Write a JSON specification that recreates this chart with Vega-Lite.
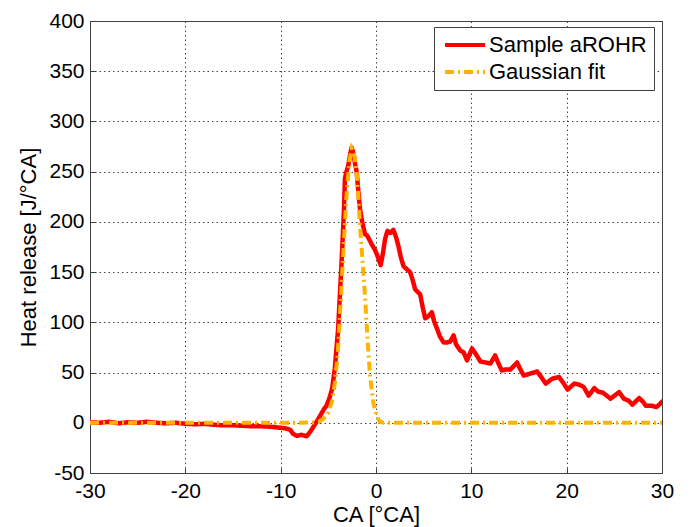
{
  "$schema": "https://vega.github.io/schema/vega-lite/v6.json",
  "width": 572,
  "height": 452,
  "autosize": {"type": "none"},
  "padding": {"left": 90, "top": 21, "right": 28, "bottom": 54},
  "background": "white",
  "config": {
    "font": "Liberation Sans",
    "view": {"stroke": "#404040", "strokeWidth": 1},
    "axis": {
      "domain": false,
      "grid": true,
      "gridColor": "#444444",
      "gridDash": [1.5, 3],
      "gridWidth": 1,
      "gridOpacity": 1,
      "tickSize": -5,
      "tickColor": "#404040",
      "labelFlush": false,
      "labelOverlap": false,
      "labelFont": "Liberation Sans",
      "labelFontSize": 21,
      "labelColor": "black",
      "labelExpr": "toString(datum.value)",
      "titleFont": "Liberation Sans",
      "titleFontSize": 22,
      "titleFontWeight": "normal",
      "titleColor": "black"
    },
    "legend": {
      "orient": "none",
      "legendX": 344,
      "legendY": 6,
      "symbolType": "M-1.4,0H6.6",
      "symbolSize": 100,
      "symbolStrokeWidth": 4,
      "labelFont": "Liberation Sans",
      "labelFontSize": 22,
      "labelColor": "black",
      "labelOffset": 26,
      "fillColor": "white",
      "strokeColor": "#404040",
      "padding": 7,
      "rowPadding": 5
    }
  },
  "datasets": {
    "arohr": [
      {"ca": -30, "hr": 0.5}, {"ca": -29, "hr": 0}, {"ca": -28, "hr": 1}, {"ca": -27, "hr": -0.5}, {"ca": -26, "hr": 0.5},
      {"ca": -25, "hr": 0}, {"ca": -24, "hr": 1}, {"ca": -23, "hr": 0}, {"ca": -22, "hr": -0.5}, {"ca": -21, "hr": 0},
      {"ca": -20, "hr": -1}, {"ca": -19, "hr": -1.5}, {"ca": -18, "hr": -1}, {"ca": -17, "hr": -2}, {"ca": -16, "hr": -2.5},
      {"ca": -15, "hr": -2.5}, {"ca": -14, "hr": -3}, {"ca": -13, "hr": -3.5}, {"ca": -12, "hr": -3.5}, {"ca": -11, "hr": -4},
      {"ca": -10, "hr": -5}, {"ca": -9.5, "hr": -5.5}, {"ca": -9, "hr": -7}, {"ca": -8.7, "hr": -11}, {"ca": -8.3, "hr": -13},
      {"ca": -7.8, "hr": -12}, {"ca": -7.3, "hr": -13.5}, {"ca": -6.9, "hr": -9}, {"ca": -6.5, "hr": -3}, {"ca": -6.1, "hr": 3},
      {"ca": -5.8, "hr": 8}, {"ca": -5.5, "hr": 13}, {"ca": -5.2, "hr": 17}, {"ca": -4.9, "hr": 24}, {"ca": -4.6, "hr": 34},
      {"ca": -4.32, "hr": 54}, {"ca": -3.97, "hr": 94}, {"ca": -3.61, "hr": 160}, {"ca": -3.37, "hr": 210}, {"ca": -3.26, "hr": 243},
      {"ca": -3.1, "hr": 250}, {"ca": -2.91, "hr": 256}, {"ca": -2.7, "hr": 268}, {"ca": -2.56, "hr": 274}, {"ca": -2.35, "hr": 268},
      {"ca": -2.2, "hr": 258}, {"ca": -2.03, "hr": 250}, {"ca": -1.85, "hr": 230}, {"ca": -1.68, "hr": 213}, {"ca": -1.45, "hr": 200},
      {"ca": -1.16, "hr": 188}, {"ca": -0.9, "hr": 186}, {"ca": -0.63, "hr": 181}, {"ca": -0.35, "hr": 176}, {"ca": -0.1, "hr": 172},
      {"ca": 0.2, "hr": 165}, {"ca": 0.49, "hr": 157}, {"ca": 0.75, "hr": 170}, {"ca": 0.95, "hr": 183}, {"ca": 1.2, "hr": 191},
      {"ca": 1.5, "hr": 189}, {"ca": 1.82, "hr": 192}, {"ca": 2.1, "hr": 185}, {"ca": 2.35, "hr": 176}, {"ca": 2.6, "hr": 165},
      {"ca": 2.88, "hr": 156}, {"ca": 3.2, "hr": 153}, {"ca": 3.58, "hr": 150}, {"ca": 3.85, "hr": 142}, {"ca": 4.1, "hr": 133},
      {"ca": 4.4, "hr": 130}, {"ca": 4.63, "hr": 128}, {"ca": 4.9, "hr": 115}, {"ca": 5.16, "hr": 104}, {"ca": 5.5, "hr": 106},
      {"ca": 5.86, "hr": 110}, {"ca": 6.1, "hr": 101}, {"ca": 6.39, "hr": 94}, {"ca": 6.7, "hr": 86}, {"ca": 7.09, "hr": 80},
      {"ca": 7.5, "hr": 80}, {"ca": 7.8, "hr": 81}, {"ca": 8.14, "hr": 87}, {"ca": 8.4, "hr": 78}, {"ca": 8.84, "hr": 72},
      {"ca": 9.2, "hr": 70}, {"ca": 9.55, "hr": 62}, {"ca": 9.8, "hr": 68}, {"ca": 10.07, "hr": 74}, {"ca": 10.5, "hr": 68},
      {"ca": 10.95, "hr": 61}, {"ca": 11.5, "hr": 60}, {"ca": 12.0, "hr": 59}, {"ca": 12.5, "hr": 67}, {"ca": 12.8, "hr": 60},
      {"ca": 13.2, "hr": 52}, {"ca": 13.6, "hr": 53}, {"ca": 14.1, "hr": 53}, {"ca": 14.8, "hr": 60}, {"ca": 15.1, "hr": 54},
      {"ca": 15.5, "hr": 47}, {"ca": 16.2, "hr": 49}, {"ca": 16.9, "hr": 51}, {"ca": 17.3, "hr": 46}, {"ca": 17.8, "hr": 39},
      {"ca": 18.5, "hr": 44}, {"ca": 19.2, "hr": 45.5}, {"ca": 19.7, "hr": 39}, {"ca": 20.1, "hr": 33}, {"ca": 20.8, "hr": 39},
      {"ca": 21.3, "hr": 38}, {"ca": 21.8, "hr": 35.5}, {"ca": 22.3, "hr": 27}, {"ca": 22.9, "hr": 34.5}, {"ca": 23.3, "hr": 31},
      {"ca": 23.8, "hr": 30}, {"ca": 24.2, "hr": 27}, {"ca": 24.6, "hr": 24}, {"ca": 25.5, "hr": 30.5}, {"ca": 26.0, "hr": 24},
      {"ca": 26.5, "hr": 22}, {"ca": 26.9, "hr": 18}, {"ca": 27.6, "hr": 24.6}, {"ca": 28.0, "hr": 21}, {"ca": 28.3, "hr": 17},
      {"ca": 28.9, "hr": 17}, {"ca": 29.4, "hr": 15.6}, {"ca": 29.7, "hr": 18}, {"ca": 30, "hr": 21}
    ],
    "gauss": [
      {"ca": -30, "hr": 0}, {"ca": -8, "hr": 0}, {"ca": -7, "hr": 0.2}, {"ca": -6.5, "hr": 0.5}, {"ca": -6, "hr": 1},
      {"ca": -5.5, "hr": 4}, {"ca": -5, "hr": 10}, {"ca": -4.6, "hr": 22}, {"ca": -4.3, "hr": 40}, {"ca": -4, "hr": 70},
      {"ca": -3.7, "hr": 120}, {"ca": -3.4, "hr": 175}, {"ca": -3.1, "hr": 225}, {"ca": -2.8, "hr": 260}, {"ca": -2.55, "hr": 273},
      {"ca": -2.3, "hr": 268}, {"ca": -2.03, "hr": 250}, {"ca": -1.85, "hr": 225}, {"ca": -1.68, "hr": 196}, {"ca": -1.4, "hr": 160},
      {"ca": -1.16, "hr": 127}, {"ca": -0.91, "hr": 87}, {"ca": -0.63, "hr": 47}, {"ca": -0.28, "hr": 20}, {"ca": 0.07, "hr": 7},
      {"ca": 0.4, "hr": 1}, {"ca": 0.8, "hr": 0}, {"ca": 30, "hr": 0}
    ]
  },
  "layer": [
    {
      "data": {"name": "arohr"},
      "transform": [{"calculate": "'Sample aROHR'", "as": "series"}],
      "mark": {"type": "line", "strokeWidth": 4.5, "strokeJoin": "round", "strokeCap": "round", "clip": true},
      "encoding": {
        "x": {"field": "ca", "type": "quantitative", "scale": {"domain": [-30, 30], "nice": false, "zero": false},
              "axis": {"values": [-30, -20, -10, 0, 10, 20, 30], "title": "CA [°CA]", "labelPadding": 12, "titleY": 48, "titleBaseline": "alphabetic"}},
        "y": {"field": "hr", "type": "quantitative", "scale": {"domain": [-50, 400], "nice": false, "zero": false},
              "axis": {"values": [-50, 0, 50, 100, 150, 200, 250, 300, 350, 400], "title": "Heat release [J/°CA]", "labelPadding": 11, "titleX": -55, "titleY": 226, "titleAngle": -90, "titleBaseline": "alphabetic", "titleAlign": "center"}},
        "color": {"field": "series", "type": "nominal", "scale": {"domain": ["Sample aROHR", "Gaussian fit"], "range": ["#FF0000", "#FFB300"]}, "legend": {"title": null}},
        "strokeDash": {"field": "series", "type": "nominal", "scale": {"domain": ["Sample aROHR", "Gaussian fit"], "range": [[1, 0], [9, 4, 2, 4]]}, "legend": {"title": null}}
      }
    },
    {
      "data": {"name": "gauss"},
      "transform": [{"calculate": "'Gaussian fit'", "as": "series"}],
      "mark": {"type": "line", "strokeWidth": 4, "clip": true},
      "encoding": {
        "x": {"field": "ca", "type": "quantitative"},
        "y": {"field": "hr", "type": "quantitative"},
        "color": {"field": "series", "type": "nominal"},
        "strokeDash": {"field": "series", "type": "nominal"}
      }
    }
  ]
}
